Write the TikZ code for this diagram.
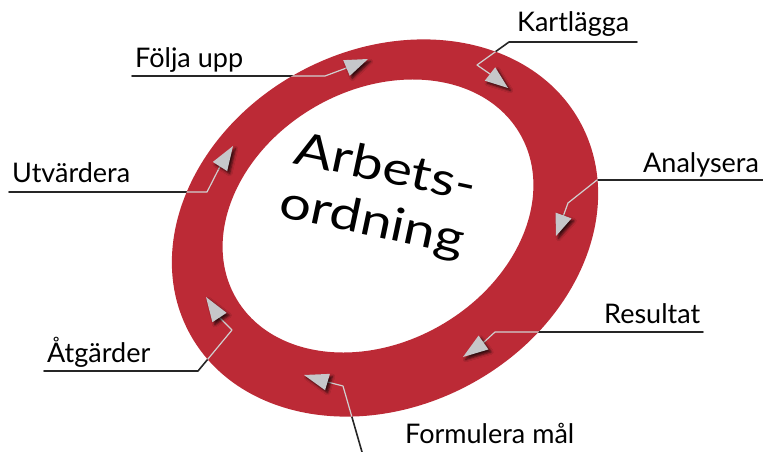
\documentclass[tikz,border=0pt]{standalone}
\usepackage{fontspec}
\setmainfont{Lato}
\usetikzlibrary{calc,shadows.blur}
\definecolor{ringred}{RGB}{188,42,54}
\definecolor{tipgray}{RGB}{198,199,202}
\definecolor{linegray}{RGB}{208,208,208}
\newcommand{\arrowhd}[2]{\fill[tipgray,blur shadow={shadow xshift=2.5pt,shadow yshift=-2.5pt,shadow blur radius=2.5pt,shadow opacity=75}] (#2)--($(#1)!8.5pt!90:(#2)$)--($(#1)!8.5pt!-90:(#2)$)--cycle;}
\begin{document}
\begin{tikzpicture}[x=1pt,y=1pt,line join=round,line cap=round,
lbl/.style={anchor=base west,inner sep=0,font=\fontsize{27}{30}\selectfont},
ctr/.style={anchor=base west,inner sep=0,rotate=-12,xscale=1.22,font=\fontsize{46}{50}\selectfont},
uline/.style={line width=1.6pt,black!85},
gline/.style={line width=1.2pt,linegray}]
\def\outer{{[rotate around={28:(385,-228)}] (385,-228) ellipse [x radius=222,y radius=178]}}
\useasboundingbox (0,0) rectangle (763,-452);
% labels
\node[lbl] (kart) at (517,-32) {Kartlägga};
\node[lbl] (folj) at (135,-67) {Följa upp};
\node[lbl] (anal) at (643,-172) {Analysera};
\node[lbl] (resu) at (604,-323) {Resultat};
\node[lbl] (form) at (405,-443) {Formulera mål};
\node[lbl] (atga) at (47,-362) {Åtgärder};
\node[lbl] (utva) at (12,-182) {Utvärdera};
% bends and arrow bases/tips
\coordinate (k0) at (637,-42); \coordinate (k1) at (509,-42); \coordinate (k2) at (477,-65);
\coordinate (kb) at (490,-74); \coordinate (kt) at (508,-88);
\coordinate (f0) at (132,-76); \coordinate (f1) at (325,-76);
\coordinate (fb) at (346.5,-68); \coordinate (ft) at (368,-59);
\coordinate (a0) at (763,-180); \coordinate (a1) at (597,-180); \coordinate (a2) at (568,-203);
\coordinate (ab) at (563.5,-215.5); \coordinate (at) at (556,-236);
\coordinate (r0) at (703,-332); \coordinate (r1) at (495,-332);
\coordinate (rb) at (483.5,-342.5); \coordinate (rt) at (463,-357);
\coordinate (m0) at (362,-452); \coordinate (m1) at (343,-386);
\coordinate (mb) at (327.5,-382); \coordinate (mt) at (304,-375);
\coordinate (g0) at (44,-371); \coordinate (g1) at (198,-371); \coordinate (g2) at (232,-330);
\coordinate (gb) at (219.5,-317.5); \coordinate (gt) at (206,-297);
\coordinate (u0) at (9,-192); \coordinate (u1) at (207,-192);
\coordinate (ub) at (220,-166.5); \coordinate (ut) at (233,-146);
\def\conns{(k0)--(k1)--(k2)--(kb) (f0)--(f1)--(fb) (a0)--(a1)--(a2)--(ab)
(r0)--(r1)--(rb) (m0)--(m1)--(mb) (g0)--(g1)--(g2)--(gb) (u0)--(u1)--(ub)}
\draw[uline] \conns;
% ring
\fill[ringred,even odd rule] \outer
{[rotate around={30:(378,-216)}] (378,-216) ellipse [x radius=164,y radius=126]};
\begin{scope}
\clip \outer;
\draw[gline] \conns;
\end{scope}
\arrowhd{kb}{kt} \arrowhd{fb}{ft} \arrowhd{ab}{at} \arrowhd{rb}{rt}
\arrowhd{mb}{mt} \arrowhd{gb}{gt} \arrowhd{ub}{ut}
% centre text
\node[ctr] (arb) at (292,-163) {Arbets-};
\node[ctr] (ord) at (277,-216) {ordning};
\end{tikzpicture}
\end{document}
